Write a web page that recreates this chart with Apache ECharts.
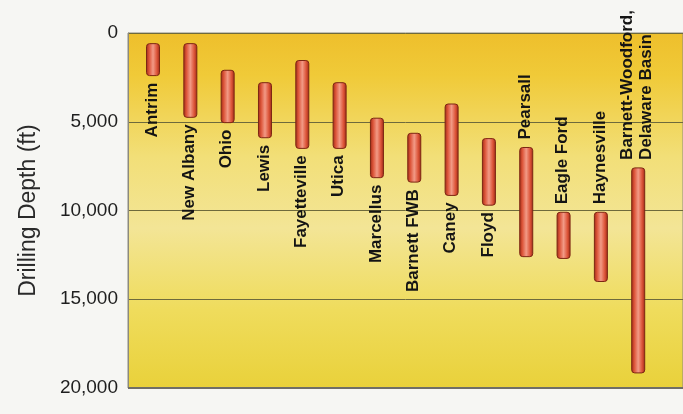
<!DOCTYPE html>
<html>
<head>
<meta charset="utf-8">
<script src="https://cdn.jsdelivr.net/npm/echarts@6/dist/echarts.min.js"></script>
<style>
  html, body { margin: 0; padding: 0; background: #f6f6f3; }
  #chart { width: 683px; height: 414px; }
</style>
</head>
<body>
<div id="chart"></div>
<script>
    // shale plays and their drilling depth ranges (ft)
    var plays = ['Antrim', 'New Albany', 'Ohio', 'Lewis', 'Fayetteville', 'Utica', 'Marcellus',
        'Barnett FWB', 'Caney', 'Floyd', 'Pearsall', 'Eagle Ford', 'Haynesville',
        'Barnett-Woodford,\nDelaware Basin'];
    var depthTop = [600, 600, 2100, 2800, 1550, 2800, 4800, 5650, 4000, 5950, 6450, 10100, 10100, 7600];
    var depthBottom = [2400, 4750, 5050, 5900, 6500, 6500, 8150, 8400, 9150, 9700, 12600, 12700, 14000, 19150];
    var yTicks = [0, 5000, 10000, 15000, 20000];
    // plays whose name sits above the bar instead of below
    var labelAbove = ['Pearsall', 'Eagle Ford', 'Haynesville', 'Barnett-Woodford,\nDelaware Basin'];

    var data = [];
    for (var i = 0; i < plays.length; i++) {
        data.push([i, depthTop[i], depthBottom[i]]);
    }

    var barFill = new echarts.graphic.LinearGradient(0, 0, 1, 0, [
        {offset: 0, color: '#9a2816'},
        {offset: 0.22, color: '#dc5438'},
        {offset: 0.5, color: '#f29a86'},
        {offset: 0.78, color: '#dc5438'},
        {offset: 1, color: '#9a2816'}
    ]);

    function renderItem(params, api) {
        var idx = api.value(0);
        var p1 = api.coord([idx, api.value(1)]);
        var p2 = api.coord([idx, api.value(2)]);
        var w = 13;
        var name = plays[idx];
        var above = labelAbove.indexOf(name) >= 0;
        return {
            type: 'group',
            children: [
                {
                    type: 'rect',
                    shape: {x: p1[0] - w / 2, y: p1[1], width: w, height: p2[1] - p1[1], r: 3},
                    style: {fill: barFill, stroke: '#7c2612', lineWidth: 1}
                },
                {
                    type: 'text',
                    x: p1[0] - 1,
                    y: above ? p1[1] - 8 : p2[1] + 7,
                    rotation: Math.PI / 2,
                    style: {
                        text: name,
                        x: 0, y: 0,
                        align: above ? 'left' : 'right',
                        verticalAlign: 'middle',
                        font: 'bold 17px "Liberation Sans", Arial, sans-serif',
                        fill: '#141414',
                        lineHeight: 19
                    }
                }
            ]
        };
    }

    var myChart = echarts.init(document.getElementById('chart'));
    var option = {
        backgroundColor: '#f6f6f3',
        animation: false,
        grid: {
            left: 128,
            right: 0,
            top: 33,
            bottom: 26,
            show: true,
            borderColor: '#8c8a7c',
            borderWidth: 1,
            backgroundColor: new echarts.graphic.LinearGradient(0, 0, 0, 1, [
                {offset: 0, color: '#eebf2c'},
                {offset: 0.12, color: '#f0ca38'},
                {offset: 0.35, color: '#f2df78'},
                {offset: 0.55, color: '#f3e596'},
                {offset: 0.78, color: '#efdc5c'},
                {offset: 1, color: '#e9d13a'}
            ])
        },
        xAxis: {
            type: 'value',
            min: -0.67,
            max: 14.2,
            show: false
        },
        yAxis: {
            type: 'value',
            inverse: true,
            min: yTicks[0],
            max: yTicks[yTicks.length - 1],
            interval: 5000,
            name: 'Drilling Depth (ft)',
            nameLocation: 'middle',
            nameGap: 88,
            nameTextStyle: {fontSize: 23, color: '#2a2a2a', fontFamily: '"Liberation Sans", Arial, sans-serif'},
            axisLine: {show: true, onZero: false, lineStyle: {color: '#8c8a7c', width: 1}},
            axisTick: {show: false},
            axisLabel: {
                margin: 10,
                fontSize: 19,
                color: '#1e1e1e',
                fontFamily: '"Liberation Sans", Arial, sans-serif',
                formatter: function (v) { return v.toLocaleString('en-US'); }
            },
            splitLine: {show: true, lineStyle: {color: '#6e6a3c', width: 1}}
        },
        series: [
            {
                type: 'custom',
                renderItem: renderItem,
                data: data,
                encode: {x: 0, y: [1, 2]}
            },
            {
                // heavier bottom frame line
                type: 'line',
                data: [[-0.67, 20000], [14.2, 20000]],
                symbol: 'none',
                lineStyle: {color: '#6f6e66', width: 2},
                silent: true
            }
        ]
    };
    myChart.setOption(option);
</script>
</body>
</html>
